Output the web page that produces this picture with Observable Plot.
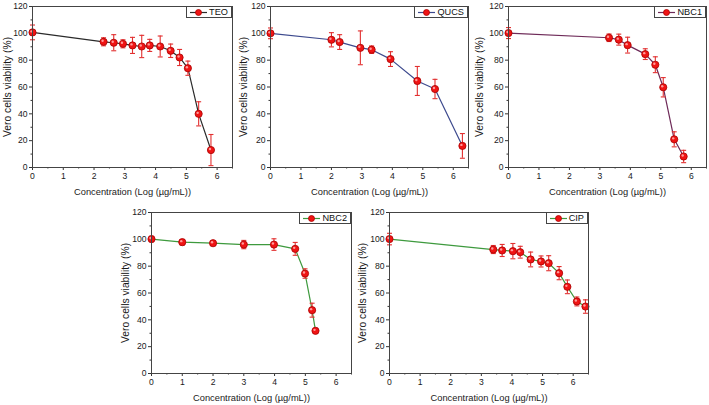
<!DOCTYPE html>
<html><head><meta charset="utf-8">
<script src="https://cdn.jsdelivr.net/npm/d3@7"></script>
<script src="https://cdn.jsdelivr.net/npm/@observablehq/plot@0.6"></script>
<style>
body{margin:0;background:#fff;font-family:"Liberation Sans",Arial,sans-serif;}
#root{position:relative;width:709px;height:405px;overflow:hidden;background:#fff;}
.panel{position:absolute;}
.legend{position:absolute;border:1px solid #444;background:#fff;font-size:9.2px;color:#111;display:flex;align-items:center;height:10px;padding:0 3px 0 2px;line-height:10px;}
.legend svg{margin-right:1px;}
</style></head><body><div id="root"></div>
<script>
// ---- data ----
const seriesNames = ["TEO", "QUCS", "NBC1", "NBC2", "CIP"];

const teoX   = [0, 2.31, 2.64, 2.94, 3.25, 3.55, 3.81, 4.15, 4.49, 4.78, 5.05, 5.40, 5.80];
const teoY   = [100.7, 93.7, 93.0, 92.2, 91.0, 90.2, 91.0, 90.2, 87.0, 82.0, 74.0, 40.0, 13.0];
const teoErr = [5.5, 3.0, 6.0, 3.0, 6.0, 8.3, 4.5, 7.8, 5.0, 6.0, 5.3, 9.0, 11.6];

const qucsX   = [0, 2.00, 2.27, 2.95, 3.32, 3.94, 4.82, 5.40, 6.30];
const qucsY   = [100.0, 95.2, 93.5, 89.2, 87.8, 80.8, 64.5, 58.5, 16.1];
const qucsErr = [4.0, 5.3, 5.5, 12.6, 2.8, 5.5, 10.8, 7.2, 9.2];

const nbc1X   = [0, 3.30, 3.62, 3.91, 4.49, 4.82, 5.08, 5.44, 5.75];
const nbc1Y   = [100.2, 96.7, 95.3, 91.2, 84.5, 76.6, 59.8, 21.0, 8.2];
const nbc1Err = [4.1, 2.8, 4.1, 5.9, 4.0, 5.9, 7.2, 5.6, 4.6];

const nbc2X   = [0, 1.00, 2.00, 3.00, 3.98, 4.67, 4.99, 5.22, 5.33];
const nbc2Y   = [100.2, 97.9, 97.1, 96.1, 96.1, 92.9, 74.5, 47.2, 31.8];
const nbc2Err = [2.0, 2.0, 1.8, 3.1, 4.3, 4.8, 3.5, 5.2, 1.9];

const cipX   = [0, 3.39, 3.68, 4.03, 4.27, 4.61, 4.95, 5.20, 5.54, 5.81, 6.12, 6.40];
const cipY   = [100.2, 92.4, 91.7, 91.2, 90.4, 85.0, 83.5, 82.2, 74.8, 64.6, 53.7, 49.9];
const cipErr = [4.3, 3.0, 4.5, 5.7, 4.4, 5.5, 4.1, 5.6, 4.9, 5.1, 3.3, 5.0];

const xTicks = [0, 1, 2, 3, 4, 5, 6];
const xMinorTicks = [0.5, 1.5, 2.5, 3.5, 4.5, 5.5, 6.5];
const yTicks = [0, 20, 40, 60, 80, 100, 120];
const yMinorTicks = [10, 30, 50, 70, 90, 110];
const xLabel = "Concentration (Log (\u00b5g/mL))";
const yLabel = "Vero cells viability (%)";

// ---- styles / layout ----
const lineColors = ["#2a2a2a", "#3d4a8e", "#6e2a58", "#3e9a3e", "#3e9a3e"];
const layout = [
  {left: 0,   top: 0,   width: 236, height: 200, mL: 32, mR: 4, mT: 6,  mB: 33, yOff: 25},
  {left: 236, top: 0,   width: 236, height: 200, mL: 34, mR: 4, mT: 6,  mB: 33, yOff: 27},
  {left: 472, top: 0,   width: 237, height: 200, mL: 36, mR: 3, mT: 6,  mB: 33, yOff: 29},
  {left: 116, top: 200, width: 239, height: 205, mL: 35, mR: 4, mT: 12, mB: 32, yOff: 26},
  {left: 355, top: 200, width: 237, height: 205, mL: 34, mR: 4, mT: 12, mB: 32, yOff: 27}
];
const RED = "#f01414", DARKRED = "#a80000", ERR = "#e23030";

const cap = {draw(ctx, size) { const r = Math.sqrt(size / Math.PI); ctx.moveTo(-r, 0); ctx.lineTo(r, 0); }};

const allX = [teoX, qucsX, nbc1X, nbc2X, cipX];
const allY = [teoY, qucsY, nbc1Y, nbc2Y, cipY];
const allE = [teoErr, qucsErr, nbc1Err, nbc2Err, cipErr];

const root = document.getElementById("root");

seriesNames.forEach((name, i) => {
  const L = layout[i];
  const data = allX[i].map((x, j) => ({x, y: allY[i][j], lo: allY[i][j] - allE[i][j], hi: allY[i][j] + allE[i][j]}));
  const chart = Plot.plot({
    width: L.width, height: L.height,
    marginLeft: L.mL, marginRight: L.mR, marginTop: L.mT, marginBottom: L.mB,
    style: {fontFamily: "'Liberation Sans', Arial, sans-serif", fontSize: "8.6px", color: "#1a1a1a", background: "transparent", overflow: "visible"},
    x: {domain: [0, 6.5]},
    y: {domain: [0, 120]},
    marks: [
      Plot.axisX({ticks: xTicks, tickFormat: d => String(d), tickSize: 3, tickPadding: 2, label: null, stroke: "#333"}),
      Plot.axisX({ticks: xMinorTicks, tickSize: 1.5, text: null, label: null, stroke: "#333"}),
      Plot.axisY({ticks: yTicks, tickFormat: d => String(d), tickSize: 3, tickPadding: 2, label: null, stroke: "#333"}),
      Plot.axisY({ticks: yMinorTicks, tickSize: 1.5, text: null, label: null, stroke: "#333"}),
      Plot.line(data, {x: "x", y: "y", stroke: lineColors[i], strokeWidth: 1.2}),
      Plot.ruleX(data, {x: "x", y1: "lo", y2: "hi", stroke: ERR, strokeWidth: 1.1}),
      Plot.dot(data, {x: "x", y: "lo", symbol: cap, r: 2.5, fill: "none", stroke: ERR, strokeWidth: 1.1}),
      Plot.dot(data, {x: "x", y: "hi", symbol: cap, r: 2.5, fill: "none", stroke: ERR, strokeWidth: 1.1}),
      Plot.dot(data, {x: "x", y: "y", r: 3.6, fill: RED, stroke: DARKRED, strokeWidth: 0.8}),
      Plot.dot(data, {x: "x", y: "y", r: 1.2, fill: "#ff9a9a", stroke: "none", dx: -1, dy: -1}),
      Plot.frame({stroke: "#444", strokeWidth: 1}),
      Plot.text([yLabel], {text: d => d, frameAnchor: "left", textAnchor: "middle", lineAnchor: "middle", dx: -L.yOff, rotate: -90, fontSize: 10.3, fill: "#1a1a1a"}),
      Plot.text([xLabel], {text: d => d, frameAnchor: "bottom", textAnchor: "middle", lineAnchor: "middle", dy: 25, fontSize: 9.3, fill: "#1a1a1a"})
    ]
  });
  const wrap = document.createElement("div");
  wrap.className = "panel";
  wrap.style.left = L.left + "px";
  wrap.style.top = L.top + "px";
  wrap.appendChild(chart);
  root.appendChild(wrap);

  // legend box at top-right of the frame
  const lg = document.createElement("div");
  lg.className = "legend";
  lg.style.right = (709 - (L.left + L.width - L.mR)) + "px";
  lg.style.top = (L.top + L.mT) + "px";
  lg.innerHTML = `<svg width="19" height="9"><line x1="1" y1="4.5" x2="18" y2="4.5" stroke="${lineColors[i]}" stroke-width="1.2"/><circle cx="9.5" cy="4.5" r="3" fill="${RED}" stroke="${DARKRED}" stroke-width="0.8"/></svg><span>${name}</span>`;
  root.appendChild(lg);
});
</script>
</body></html>
